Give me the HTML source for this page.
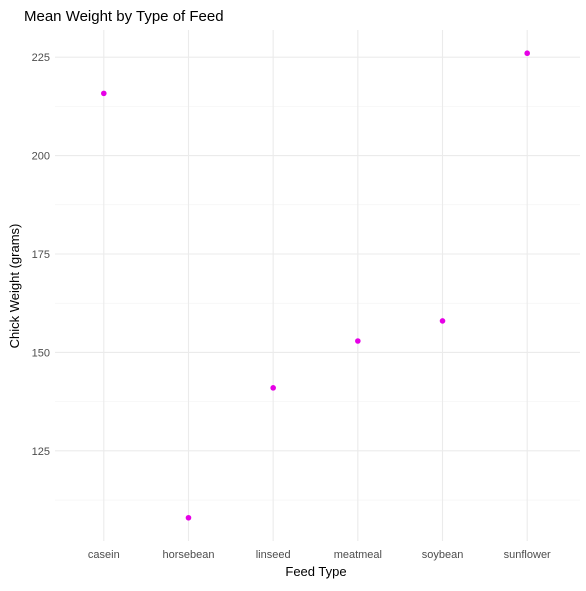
<!DOCTYPE html>
<html><head><meta charset="utf-8"><style>
body{margin:0;background:#fff;font-family:"Liberation Sans",sans-serif}
</style></head><body>
<svg id="chart" width="586" height="586" xmlns="http://www.w3.org/2000/svg">
<text x="24" y="21" font-size="15" fill="#000">Mean Weight by Type of Feed</text>
<g id="grid"></g><g id="marks"></g><g id="labels"></g>
<text x="316" y="576" font-size="13" text-anchor="middle" fill="#000">Feed Type</text>
<text transform="translate(19,286) rotate(-90)" font-size="13" text-anchor="middle" fill="#000">Chick Weight (grams)</text>
</svg>
<script>
const categories=["casein","horsebean","linseed","meatmeal","soybean","sunflower"];
const meanWeights=[215.8,108.0,141.0,152.9,158.0,226.0];
const yTicks=[125,150,175,200,225];
const yMinor=[112.5,137.5,162.5,187.5,212.5];
const ns="http://www.w3.org/2000/svg";
const L=53,R=578,T=30,B=541,yMin=102.1,yMax=231.9;
const x=i=>L+(R-L)*(i+0.5+0.1)/(categories.length+0.2);
const y=v=>B-(v-yMin)/(yMax-yMin)*(B-T);
function mk(tag,attrs,parent){const e=document.createElementNS(ns,tag);for(const k in attrs)e.setAttribute(k,attrs[k]);document.getElementById(parent).appendChild(e);return e;}
yMinor.forEach(v=>{const e=mk('line',{x1:55,x2:580,y1:y(v),y2:y(v),stroke:'#f2f2f2','stroke-width':0.6},'grid');

});
yTicks.forEach(v=>{const e=mk('line',{x1:55,x2:580,y1:y(v),y2:y(v),stroke:'#ebebeb','stroke-width':1.1},'grid');


const t=mk('text',{x:50,y:y(v)+4,'font-size':11,'text-anchor':'end',fill:'#4d4d4d'},'labels');t.textContent=v;

});
categories.forEach((c,i)=>{const g=mk('line',{x1:x(i),x2:x(i),y1:T,y2:B,stroke:'#ebebeb','stroke-width':1.1},'grid');


const t=mk('text',{x:x(i),y:558,'font-size':11,'text-anchor':'middle',fill:'#4d4d4d'},'labels');t.textContent=c;


const p=mk('circle',{cx:x(i),cy:y(meanWeights[i]),r:2.8,fill:'#e600e6'},'marks');

});
</script>
</body></html>
